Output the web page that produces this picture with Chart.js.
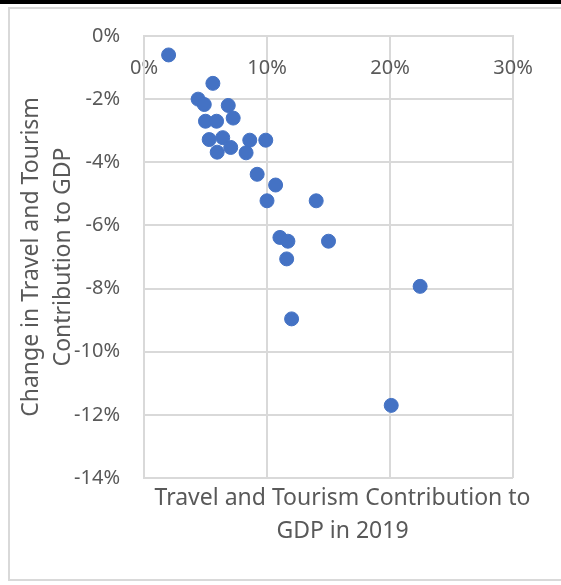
<!DOCTYPE html>
<html>
<head>
<meta charset="utf-8">
<script src="https://cdn.jsdelivr.net/npm/chart.js@4.4.0/dist/chart.umd.min.js"></script>
<style>
  html, body { margin: 0; padding: 0; background: #fff; overflow: hidden; width: 561px; height: 585px; }
  .line { position: absolute; }
  #topline { left: 0; top: 0; width: 561px; height: 4px; background: #000; }
  #frameLeft { left: 8px; top: 7px; width: 2px; height: 574px; background: #d9d9d9; }
  #frameTop { left: 8px; top: 7px; width: 553px; height: 2px; background: #d9d9d9; }
  #frameBottom { left: 8px; top: 579px; width: 553px; height: 2px; background: #d9d9d9; }
  #wrap { position: absolute; left: 0; top: 0; width: 561px; height: 585px; }
</style>
</head>
<body>
<div class="line" id="topline"></div>
<div class="line" id="frameLeft"></div>
<div class="line" id="frameTop"></div>
<div class="line" id="frameBottom"></div>
<div id="wrap"><canvas id="myChart" width="561" height="585"></canvas></div>
<script>
// travel & tourism share of GDP in 2019 (%)
const contribution2019 = [2.0, 5.6, 4.4, 4.9, 6.85, 5.0, 5.9, 7.25, 5.3, 6.4, 5.95, 7.05, 8.6, 8.3, 9.9,
  9.2, 10.7, 10.0, 14.0, 11.05, 11.7, 15.0, 11.6, 22.45, 12.0, 20.1];
// change in contribution (%)
const changeInContribution = [-0.6, -1.5, -2.0, -2.17, -2.2, -2.7, -2.7, -2.6, -3.28, -3.22, -3.68, -3.53, -3.3, -3.7, -3.3,
  -4.38, -4.72, -5.22, -5.22, -6.38, -6.5, -6.5, -7.06, -7.93, -8.96, -11.7];

const xTitleLines = ['Travel and Tourism Contribution to', 'GDP in 2019'];
const yTitleLines = ['Change in Travel and Tourism', 'Contribution to GDP'];

const fontFamily = '"Noto Sans", "Open Sans", sans-serif';
const textColor = '#595959';
const gridColor = '#d9d9d9';

var points = contribution2019.map((x, i) => ({ x: x, y: changeInContribution[i] }));

// x title is centred a little right of the plot, like the original
const xTitlePlugin = {
  id: 'xTitle',
  afterDraw(chart) {
    const ctx = chart.ctx;
    ctx.save();
    ctx.font = '23px ' + fontFamily;
    ctx.fillStyle = textColor;
    ctx.textAlign = 'center';
    ctx.textBaseline = 'middle';
    const cx = chart.chartArea.left + (chart.chartArea.right - chart.chartArea.left) / 2 + 14;
    xTitleLines.forEach((line, i) => {
      ctx.fillText(line, cx, chart.chartArea.bottom + 20 + i * 33.5);
    });
    ctx.restore();
  }
};

var chrt = document.getElementById('myChart');

var scatter = new Chart(chrt, {
  type: 'scatter',
  data: {
    datasets: [{
      label: 'Change',
      data: points,
      backgroundColor: '#4472C4',
      borderColor: '#4472C4',
      borderWidth: 1,
      pointRadius: 7,
      pointHoverRadius: 7
    }]
  },
  options: {
    responsive: false,
    animation: false,
    layout: {
      padding: { left: 0, top: 34, right: 48, bottom: 107 }
    },
    plugins: {
      legend: { display: false },
      tooltip: { enabled: false }
    },
    scales: {
      x: {
        type: 'linear',
        position: { y: 0 },
        min: 0,
        max: 30,
        ticks: {
          stepSize: 10,
          padding: 20,
          color: textColor,
          font: { family: fontFamily, size: 20 },
          callback: v => v + '%'
        },
        grid: { color: gridColor, lineWidth: 2, drawTicks: false },
        border: { color: gridColor, width: 2 }
      },
      y: {
        type: 'linear',
        position: 'left',
        min: -14,
        max: 0,
        afterFit: scale => { scale.width = 144; },
        ticks: {
          stepSize: 2,
          padding: 24,
          color: textColor,
          font: { family: fontFamily, size: 20 },
          callback: v => v + '%'
        },
        grid: { color: gridColor, lineWidth: 2, drawTicks: false },
        border: { color: gridColor, width: 2 },
        title: {
          display: true,
          text: yTitleLines,
          color: textColor,
          font: { family: fontFamily, size: 23, lineHeight: 1.39 },
          padding: { top: 15, bottom: 0 }
        }
      }
    }
  },
  plugins: [xTitlePlugin]
});
</script>
</body>
</html>
